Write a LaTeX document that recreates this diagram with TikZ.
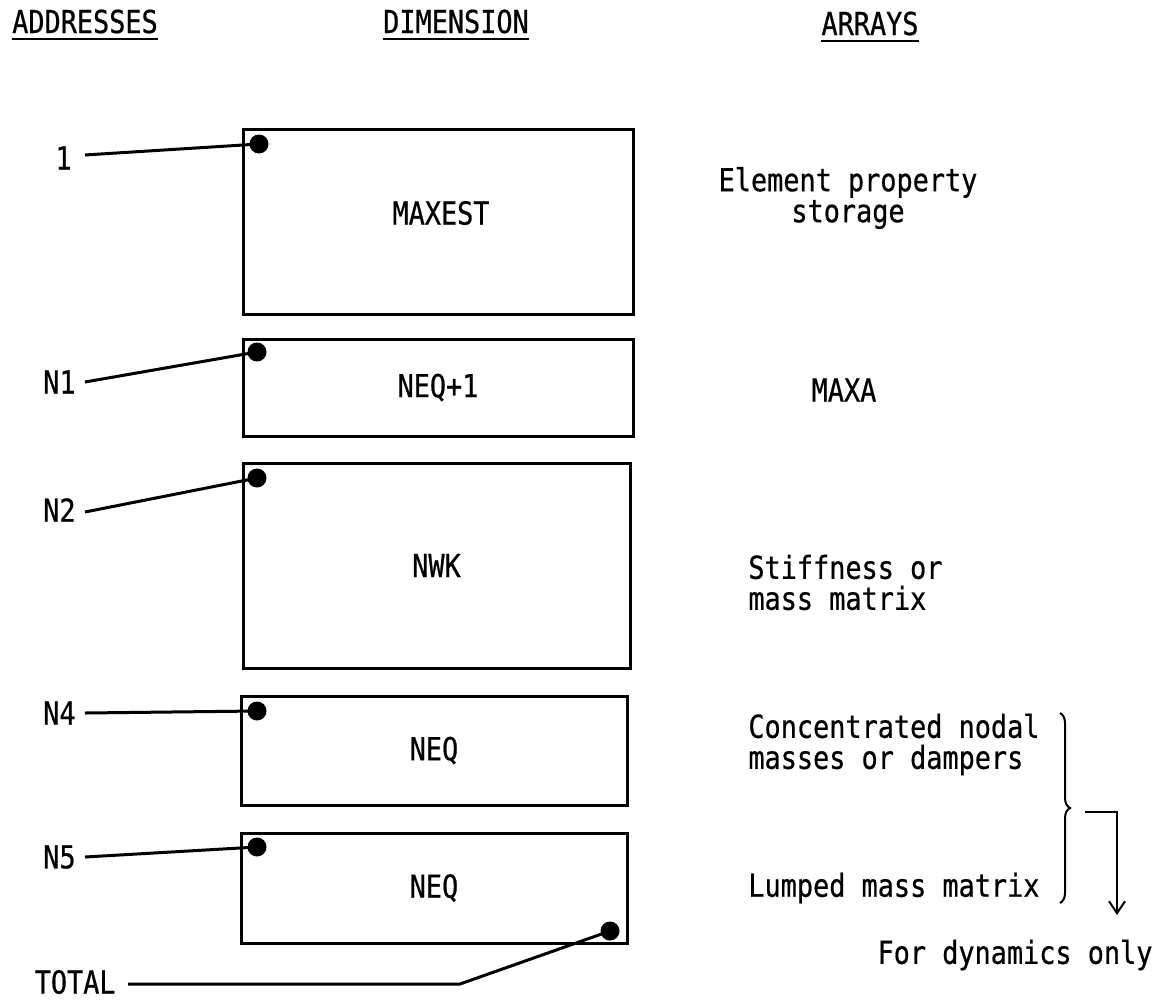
\documentclass[tikz,border=0pt]{standalone}
\usepackage{fontspec}
\setmainfont{DejaVu Sans Mono}[FakeStretch=0.85,FakeBold=0.6]
\usetikzlibrary{arrows.meta,decorations.pathreplacing}
\begin{document}
\begin{tikzpicture}[x=0.5pt,y=-0.5pt,
  txt/.style={font=\fontsize{15.8}{15.5}\selectfont, inner sep=0pt},
  hdr/.style={txt, anchor=base},
  box/.style={draw, line width=1.5pt, inner sep=0pt, font=\fontsize{15.8}{15.5}\selectfont},
  dot/.style={circle, fill, inner sep=0pt, minimum size=9.5pt},
  conn/.style={line width=1.5pt},
  lab/.style={txt, inner xsep=0pt}]
\useasboundingbox (0,0) rectangle (1170,1001);

% headers
\node[hdr] (h1) at (85,33) {ADDRESSES};
\node[hdr] (h2) at (456,33) {DIMENSION};
\node[hdr] (h3) at (870,35) {ARRAYS};
\foreach \h in {h1,h2,h3}
  \draw[line width=1.4pt] ([yshift=-3pt]\h.base west) -- ([yshift=-3pt]\h.base east);

% boxes
\node[box, minimum width=195pt, minimum height=92.5pt] (b1) at (438,221.5) {};
\node[txt] (t1) at (441,213) {MAXEST};
\node[box, minimum width=195pt, minimum height=48.5pt] (b2) at (438,387.5) {NEQ+1};
\node[box, minimum width=193.5pt, minimum height=102.5pt] (b3) at (436.5,565.5) {NWK};
\node[box, minimum width=193pt, minimum height=54.5pt] (b4) at (434,750.5) {NEQ};
\node[box, minimum width=193pt, minimum height=55pt] (b5) at (434,888) {NEQ};

% address labels
\node[lab, anchor=east] (a1) at (72,158) {1};
\node[lab, anchor=east] (a2) at (76,382) {N1};
\node[lab, anchor=east] (a3) at (76,510) {N2};
\node[lab, anchor=east] (a4) at (76,713) {N4};
\node[lab, anchor=east] (a5) at (76,857) {N5};
\node[lab, anchor=east] (a6) at (116,982) {TOTAL};

% dots
\node[dot] (d1) at (259,144) {};
\node[dot] (d2) at (257,352) {};
\node[dot] (d3) at (257,478) {};
\node[dot] (d4) at (257,711) {};
\node[dot] (d5) at (257,847) {};
\node[dot] (d6) at (610,931) {};

% connectors
\draw[conn] ([xshift=6.5pt,yshift=1.5pt]a1.east) -- (d1.center);
\draw[conn] ([xshift=4.5pt]a2.east) -- (d2.center);
\draw[conn] ([xshift=4.5pt,yshift=-1pt]a3.east) -- (d3.center);
\draw[conn] ([xshift=4.5pt]a4.east) -- (d4.center);
\draw[conn] ([xshift=4.5pt]a5.east) -- (d5.center);
\coordinate (bend) at (460,984);
\draw[conn] ([xshift=6pt,yshift=-1pt]a6.east) -- (bend) -- (d6.center);

% array descriptions
\node[txt, align=center] (r1) at (848,198) {Element property\\storage};
\node[txt] (r2) at (844,390) {MAXA};
\node[txt, align=left, anchor=west] (r3) at (748,582.5) {Stiffness or\\mass matrix};
\node[txt, align=left, anchor=west] (r4) at (748,744.5) {Concentrated nodal\\masses or dampers};
\node[txt, anchor=west] (r5) at (748,888) {Lumped mass matrix};
\node[txt] (r6) at (1015,955) {For dynamics only};

% brace and arrow
\coordinate (brT) at (1060,713);
\coordinate (brB) at (1060,903);
\draw[line width=1pt, decorate, decoration={brace, amplitude=5pt}] (brT) -- (brB);
\coordinate (arS) at (1085,812);
\coordinate (arE) at (1117,915);
\draw[line width=1pt, -{Straight Barb[length=6pt,width=8pt]}] (arS) -| (arE);
\end{tikzpicture}
\end{document}
